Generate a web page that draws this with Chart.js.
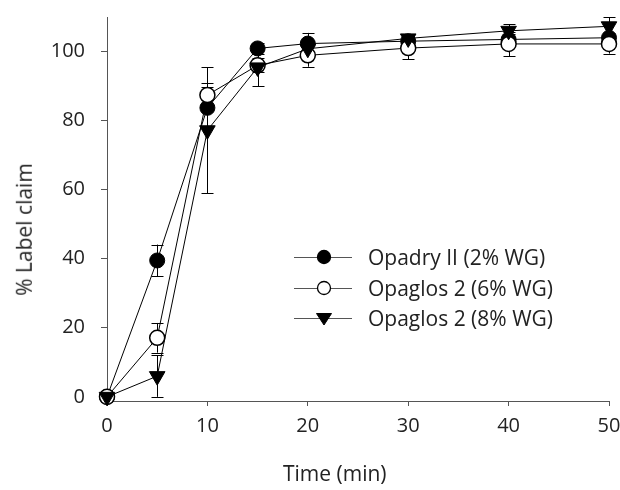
<!DOCTYPE html>
<html>
<head>
<meta charset="utf-8">
<script src="https://cdn.jsdelivr.net/npm/chart.js@4/dist/chart.umd.min.js"></script>
<style>
  html, body { margin: 0; padding: 0; background: #fff; }
  #wrap { position: relative; width: 620px; height: 490px; font-family: "Open Sans", sans-serif; color: #222; }
  #c { position: absolute; left: 0; top: 0; }
  .lbl { position: absolute; white-space: nowrap; font-size: 21px; line-height: 1; }
  .legrow { position: absolute; left: 292px; height: 24px; display: flex; align-items: center; }
  .legrow svg { display: block; }
  .legrow span { font-size: 21px; margin-left: 14px; white-space: nowrap; }
</style>
</head>
<body>
<div id="wrap">
  <canvas id="c" width="620" height="490"></canvas>
  <div class="lbl" id="xt">Time (min)</div>
  <div class="lbl" id="yt">% Label claim</div>
  <div id="legend"></div>
</div>
<script>
const times = [0, 5, 10, 15, 20, 30, 40, 50];
const opadry2 = [0, 39.5, 83.7, 100.9, 102.3, 103.0, 103.5, 104.0];
const opadry2SD = [0, 4.6, 5.9, 1.5, 3.1, 1.2, 1.5, 1.5];
const opaglos6 = [0, 17.1, 87.4, 96.0, 98.9, 101.0, 102.2, 102.2];
const opaglos6SD = [0, 4.3, 3.6, 2.0, 3.3, 3.3, 3.6, 2.8];
const opaglos8 = [0, 6.0, 77.2, 95.4, 100.8, 103.8, 106.0, 107.3];
const opaglos8SD = [0, 6.0, 18.3, 5.5, 1.5, 1.0, 1.9, 2.7];
const seriesNames = ["Opadry II (2% WG)", "Opaglos 2 (6% WG)", "Opaglos 2 (8% WG)"];
const xTicks = [0, 10, 20, 30, 40, 50];
const yTicks = [0, 20, 40, 60, 80, 100];

const errs = [opadry2SD, opaglos6SD, opaglos8SD];
const toXY = arr => times.map((t, i) => ({ x: t, y: arr[i] }));

const errorBars = {
  id: 'errorBars',
  beforeDatasetsDraw(chart) {
    const ctx = chart.ctx;
    const ys = chart.scales.y;
    ctx.save();
    ctx.strokeStyle = '#000';
    ctx.lineWidth = 1;
    chart.data.datasets.forEach((ds, di) => {
      const meta = chart.getDatasetMeta(di);
      meta.data.forEach((pt, i) => {
        const sd = errs[di][i];
        if (!sd) return;
        const v = ds.data[i].y;
        const top = ys.getPixelForValue(v + sd);
        const bot = ys.getPixelForValue(v - sd);
        const x = Math.round(pt.x) + 0.5;
        ctx.beginPath();
        ctx.moveTo(x, top); ctx.lineTo(x, bot);
        ctx.moveTo(x - 6, Math.round(top) + 0.5); ctx.lineTo(x + 6, Math.round(top) + 0.5);
        ctx.moveTo(x - 6, Math.round(bot) + 0.5); ctx.lineTo(x + 6, Math.round(bot) + 0.5);
        ctx.stroke();
      });
    });
    ctx.restore();
  }
};

const font = { family: '"Open Sans", sans-serif', size: 20 };

new Chart(document.getElementById('c'), {
  type: 'line',
  data: {
    datasets: [
      { label: seriesNames[0], data: toXY(opadry2), borderColor: '#000', borderWidth: 1,
        pointStyle: 'circle', pointRadius: 7.5, pointBackgroundColor: '#000', pointBorderColor: '#000', pointBorderWidth: 1, order: 3 },
      { label: seriesNames[1], data: toXY(opaglos6), borderColor: '#000', borderWidth: 1,
        pointStyle: 'circle', pointRadius: 7.5, pointBackgroundColor: '#fff', pointBorderColor: '#000', pointBorderWidth: 1.5, order: 2 },
      { label: seriesNames[2], data: toXY(opaglos8), borderColor: '#000', borderWidth: 1,
        pointStyle: 'triangle', pointRotation: 180, pointRadius: 9, pointBackgroundColor: '#000', pointBorderColor: '#000', pointBorderWidth: 1, order: 1 }
    ]
  },
  options: {
    responsive: false,
    animation: false,
    clip: false,
    layout: { padding: { left: 0, right: 11, top: 17, bottom: 0 } },
    plugins: { legend: { display: false }, tooltip: { enabled: false } },
    elements: { line: { tension: 0 } },
    scales: {
      x: {
        type: 'linear', min: 0, max: 50,
        afterBuildTicks: s => { s.ticks = xTicks.map(v => ({ value: v })); },
        afterFit: s => { s.height = 89; s.paddingLeft = 0; s.paddingRight = 0; },
        grid: { display: true, drawOnChartArea: false, drawTicks: true, tickLength: 5, color: '#555' },
        border: { display: true, color: '#555', width: 1 },
        ticks: { font, color: '#222', padding: 8, maxRotation: 0 }
      },
      y: {
        type: 'linear', min: -1.2, max: 110,
        afterBuildTicks: s => { s.ticks = yTicks.map(v => ({ value: v })); },
        afterFit: s => { s.width = 107; s.paddingTop = 0; s.paddingBottom = 0; },
        grid: { display: true, drawOnChartArea: false, drawTicks: true, tickLength: 6, color: '#555' },
        border: { display: true, color: '#555', width: 1 },
        ticks: { font, color: '#222', padding: 16 }
      }
    }
  },
  plugins: [errorBars]
});

// axis titles
const xt = document.getElementById('xt');
xt.style.left = (335 - xt.offsetWidth / 2) + 'px';
xt.style.top = (473 - xt.offsetHeight / 2) + 'px';
const yt = document.getElementById('yt');
yt.style.left = (24 - yt.offsetWidth / 2) + 'px';
yt.style.top = (229 - yt.offsetHeight / 2) + 'px';
yt.style.transform = 'rotate(-90deg)';

// legend
const legendRows = [
  { fill: '#000', shape: 'circle' },
  { fill: '#fff', shape: 'circle' },
  { fill: '#000', shape: 'tri' }
];
const legendY = [257, 288, 318];
const leg = document.getElementById('legend');
seriesNames.forEach((name, i) => {
  const r = legendRows[i];
  const row = document.createElement('div');
  row.className = 'legrow';
  row.style.top = (legendY[i] - 12) + 'px';
  let marker = r.shape === 'circle'
    ? `<circle cx="32" cy="12" r="6.5" fill="${r.fill}" stroke="#000" stroke-width="1.3"/>`
    : `<polygon points="24.5,7.5 39.5,7.5 32,19" fill="#000" stroke="#000" stroke-width="1"/>`;
  row.innerHTML = `<svg width="62" height="24"><line x1="2" y1="12.5" x2="60" y2="12.5" stroke="#555" stroke-width="1"/>${marker}</svg><span>${name}</span>`;
  leg.appendChild(row);
});
</script>
</body>
</html>
